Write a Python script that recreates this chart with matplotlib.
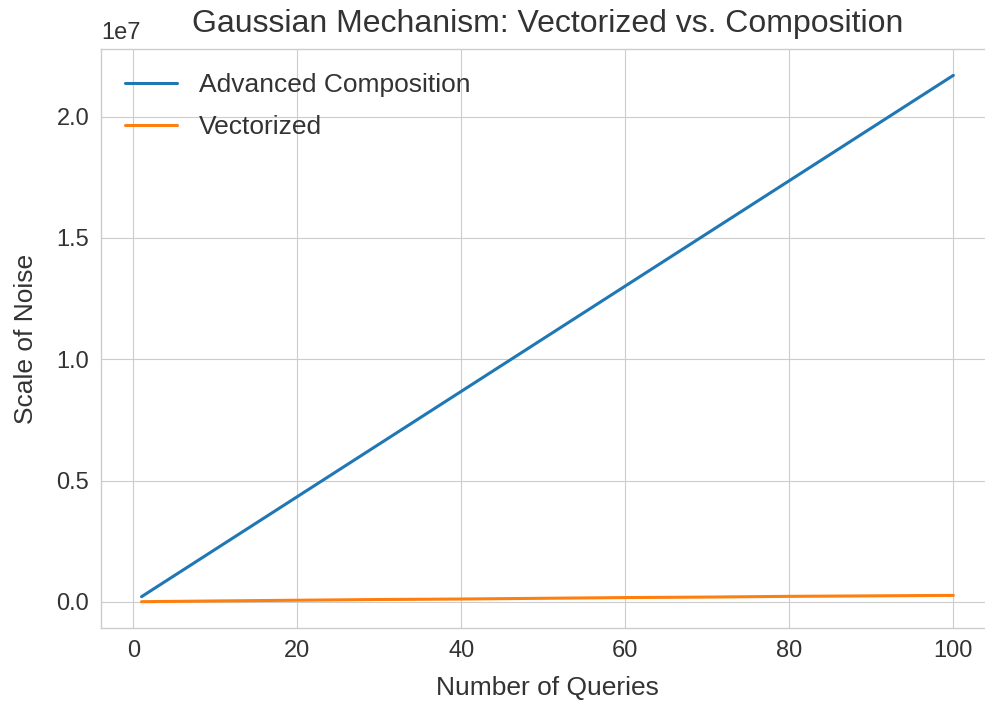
import numpy as np
import matplotlib
matplotlib.use("Agg")
import matplotlib.pyplot as plt

# values
queries = [1, 10, 20, 30, 40, 50, 60, 70, 80, 90, 100]
advanced_composition = [0.217e6, 2.17e6, 4.34e6, 6.51e6, 8.68e6, 10.85e6,
                        13.02e6, 15.19e6, 17.36e6, 19.53e6, 21.7e6]
vectorized = [0.01e6, 0.04e6, 0.07e6, 0.10e6, 0.12e6, 0.15e6,
              0.18e6, 0.20e6, 0.23e6, 0.25e6, 0.27e6]


def main() -> None:
    plt.style.use("seaborn-v0_8-whitegrid")
    plt.rcParams["font.family"] = ["Liberation Sans", "DejaVu Sans"]
    plt.rcParams["text.color"] = "0.2"
    plt.rcParams["axes.labelcolor"] = "0.2"
    plt.rcParams["xtick.color"] = "0.2"
    plt.rcParams["ytick.color"] = "0.2"

    fig = plt.figure(figsize=(9.85, 7.02), dpi=100)
    # right spine sits just past the image edge, as in the reference crop
    ax = fig.add_axes([0.1025, 0.1054, 0.9066, 0.8248])

    ax.plot(queries, advanced_composition, label="Advanced Composition", linewidth=2.2)
    ax.plot(queries, vectorized, label="Vectorized", linewidth=2.2)

    ax.set_title("Gaussian Mechanism: Vectorized vs. Composition", fontsize=23, pad=12)
    ax.set_xlabel("Number of Queries", fontsize=19, labelpad=10)
    ax.set_ylabel("Scale of Noise", fontsize=19, labelpad=13)
    ax.tick_params(labelsize=17, pad=8.5)
    ax.yaxis.get_offset_text().set_fontsize(17)
    ax.yaxis.OFFSETTEXTPAD = 7
    ax.legend(loc="upper left", fontsize=19, labelspacing=0.69)

    fig.savefig("out.png", dpi=100)


if __name__ == '__main__':
    main()
